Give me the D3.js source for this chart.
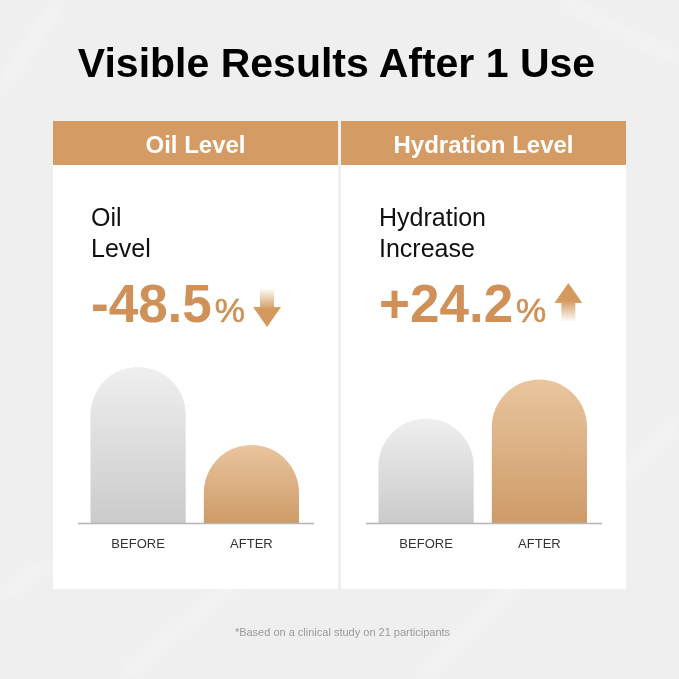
<!DOCTYPE html>
<html>
<head>
<meta charset="utf-8">
<script src="https://cdn.jsdelivr.net/npm/d3@7"></script>
<style>
  html, body { margin: 0; padding: 0; background: #f0f0f0; }
  svg { display: block; }
</style>
</head>
<body>
<div id="chart"></div>
<script>
// ---- data ----
const title = "Visible Results After 1 Use";
const panelTitles = ["Oil Level", "Hydration Level"];
const subtitles = [["Oil", "Level"], ["Hydration", "Increase"]];
const changeValues = ["-48.5", "+24.2"];
const changeDirections = ["down", "up"];
const categories = ["BEFORE", "AFTER"];
const oilValues = [100, 50];
const hydrationValues = [67, 92];
const footnote = "*Based on a clinical study on 21 participants";

const W = 679, H = 679;
const svg = d3.select("#chart").append("svg").attr("width", W).attr("height", H);
const defs = svg.append("defs");

// background
svg.append("rect").attr("width", W).attr("height", H).attr("fill", "#efefef");
defs.append("filter").attr("id", "blur").append("feGaussianBlur").attr("stdDeviation", 8);
const streaks = [[[0, 90], [60, 0]], [[120, 679], [260, 560]], [[420, 679], [679, 420]], [[560, 0], [679, 60]], [[0, 600], [50, 560]]];
svg.append("g").attr("filter", "url(#blur)").selectAll("line").data(streaks).join("line")
  .attr("x1", d => d[0][0]).attr("y1", d => d[0][1]).attr("x2", d => d[1][0]).attr("y2", d => d[1][1])
  .attr("stroke", "#fafafa").attr("stroke-width", 14).attr("opacity", 0.45);

// gradients
function vGrad(id, stops) {
  const g = defs.append("linearGradient").attr("id", id).attr("x1", 0).attr("y1", 0).attr("x2", 0).attr("y2", 1);
  stops.forEach(s => g.append("stop").attr("offset", s[0]).attr("stop-color", s[1]).attr("stop-opacity", s[2] == null ? 1 : s[2]));
}
vGrad("gBefore", [[0, "#efefef"], [1, "#cbcbcb"]]);
vGrad("gAfter", [[0, "#eac59e"], [1, "#cd9b68"]]);
vGrad("gArrowDown", [[0, "#d4995f", 0], [0.55, "#d4995f", 1], [1, "#d4995f", 1]]);
vGrad("gArrowUp", [[0, "#d4995f", 1], [0.45, "#d4995f", 1], [1, "#d4995f", 0]]);

// title
svg.append("text").attr("x", W / 2 - 3).attr("y", 77).attr("text-anchor", "middle")
  .attr("font-family", "Liberation Sans, Arial, sans-serif").attr("font-weight", "bold")
  .attr("font-size", 41).attr("fill", "#000").text(title);

const panelX = [53, 341];
const panelW = 285;
const baseY = 523;
const y = d3.scaleLinear().domain([0, 100]).range([baseY, 367]);
const seriesList = [oilValues, hydrationValues];

function archPath(x, w, top, bottom) {
  const r = w / 2;
  const p = d3.path();
  p.moveTo(x, bottom);
  p.lineTo(x, top + r);
  p.arc(x + r, top + r, r, Math.PI, 0);
  p.lineTo(x + w, bottom);
  p.closePath();
  return p.toString();
}

panelTitles.forEach((pt, i) => {
  const x0 = panelX[i];
  const g = svg.append("g");
  g.append("rect").attr("x", x0).attr("y", 121).attr("width", panelW).attr("height", 468).attr("fill", "#ffffff");
  g.append("rect").attr("x", x0).attr("y", 121).attr("width", panelW).attr("height", 44).attr("fill", "#d49b64");
  g.append("text").attr("x", x0 + panelW / 2).attr("y", 153).attr("text-anchor", "middle")
    .attr("font-family", "Liberation Sans, Arial, sans-serif").attr("font-weight", "bold")
    .attr("font-size", 24).attr("fill", "#fff").text(pt);

  // subtitle
  g.selectAll("text.sub").data(subtitles[i]).join("text").attr("class", "sub")
    .attr("x", x0 + 38).attr("y", (d, k) => 226 + k * 31)
    .attr("font-family", "Liberation Sans, Arial, sans-serif").attr("font-size", 25).attr("fill", "#111").text(d => d);

  // change value
  const t = g.append("text").attr("x", x0 + 38).attr("y", 322)
    .attr("font-family", "Liberation Sans, Arial, sans-serif").attr("fill", "#cf9158");
  t.append("tspan").attr("font-weight", "bold").attr("font-size", 53).text(changeValues[i]);
  t.append("tspan").attr("font-size", 34).attr("dx", 3).attr("stroke", "#cf9158").attr("stroke-width", 0.6).text("%");
  const tEnd = x0 + 38 + t.node().getComputedTextLength() + 11;

  // arrow
  const aw = 28, shaft = 14;
  const ap = d3.path();
  if (changeDirections[i] === "down") {
    const top = 288, bot = 327, headY = 307;
    ap.moveTo(tEnd + (aw - shaft) / 2, top);
    ap.lineTo(tEnd + (aw + shaft) / 2, top);
    ap.lineTo(tEnd + (aw + shaft) / 2, headY);
    ap.lineTo(tEnd + aw, headY);
    ap.lineTo(tEnd + aw / 2, bot);
    ap.lineTo(tEnd, headY);
    ap.lineTo(tEnd + (aw - shaft) / 2, headY);
    ap.closePath();
    g.append("path").attr("d", ap.toString()).attr("fill", "url(#gArrowDown)");
  } else {
    const top = 283, bot = 322, headY = 303;
    ap.moveTo(tEnd + aw / 2, top);
    ap.lineTo(tEnd + aw, headY);
    ap.lineTo(tEnd + (aw + shaft) / 2, headY);
    ap.lineTo(tEnd + (aw + shaft) / 2, bot);
    ap.lineTo(tEnd + (aw - shaft) / 2, bot);
    ap.lineTo(tEnd + (aw - shaft) / 2, headY);
    ap.lineTo(tEnd, headY);
    ap.closePath();
    g.append("path").attr("d", ap.toString()).attr("fill", "url(#gArrowUp)");
  }

  // bars
  const x = d3.scaleBand().domain(categories).range([x0 + 37.5, x0 + 246]).paddingInner(0.16).paddingOuter(0);
  const vals = seriesList[i];
  g.selectAll("path.bar").data(categories).join("path").attr("class", "bar")
    .attr("d", (c, k) => archPath(x(c), x.bandwidth(), y(vals[k]), baseY))
    .attr("fill", (c, k) => k === 0 ? "url(#gBefore)" : "url(#gAfter)");

  g.append("line").attr("x1", x0 + 25).attr("x2", x0 + 261).attr("y1", baseY + 0.5).attr("y2", baseY + 0.5)
    .attr("stroke", "#b5b5b5").attr("stroke-width", 1.5);

  g.selectAll("text.cat").data(categories).join("text").attr("class", "cat")
    .attr("x", c => x(c) + x.bandwidth() / 2).attr("y", 548).attr("text-anchor", "middle")
    .attr("font-family", "Liberation Sans, Arial, sans-serif").attr("font-size", 13).attr("fill", "#333").text(c => c);
});

svg.append("text").attr("x", W / 2 + 3).attr("y", 636).attr("text-anchor", "middle")
  .attr("font-family", "Liberation Sans, Arial, sans-serif").attr("font-size", 11).attr("fill", "#9a9a9a").text(footnote);
</script>
</body>
</html>
